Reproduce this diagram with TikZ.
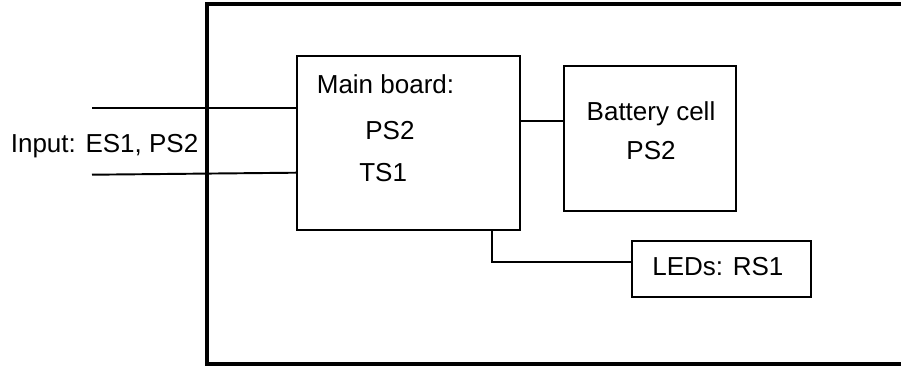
\documentclass[tikz,border=0pt]{standalone}
\usepackage{fontspec}
\setmainfont{Liberation Sans}
\usetikzlibrary{positioning}

\begin{document}
\begin{tikzpicture}[
      x=0.02cm, y=-0.02cm,
      every node/.style={font=\fontsize{14.8}{17.8}\selectfont},
      caixa/.style={draw, line width=1.1pt, minimum width=#1, inner sep=0pt},
      rotulo/.style={inner sep=0pt},
      linha/.style={line width=1.1pt},
      moldura/.style={line width=2.45pt}
  ]
      \useasboundingbox (0,0) rectangle (901,365);

      % Moldura externa (lado direito fora da imagem)
      \draw[moldura] (207,4.3) rectangle (915,364);

      % Caixas
      \node[caixa=4.454cm, minimum height=3.48cm] (board) at (408.6,143) {};
      \node[caixa=3.44cm, minimum height=2.894cm] (cell) at (650,138.3) {};
      \node[caixa=3.586cm, minimum height=1.12cm] (leds) at (721.3,268.7) {};

      % Textos
      \node[rotulo, anchor=base west] (boardtitle) at (316.5,93.3) {Main board:};
      \node[rotulo, anchor=base west] (boardps) at (365,139.3) {PS2};
      \node[rotulo, anchor=base west] (boardts) at (359,181.7) {TS1};
      \node[rotulo, anchor=base] (celltitle) at (651,120.7) {Battery cell};
      \node[rotulo, anchor=base] (cellps) at (651,159.3) {PS2};
      \node[rotulo, anchor=base west] (ledtxt) at (652,275.7) {LEDs: RS1};
      \node[rotulo, anchor=base west] (inputtxt) at (10.5,152.7) {Input: ES1, PS2};

      % Entradas
      \coordinate (in1) at (92,108.3);
      \coordinate (in2) at (92,174.7);
      \draw[linha] (in1) -- (in1 -| board.west);
      \draw[linha] (in2) -- ([yshift=0.04cm]in2 -| board.west);

      % Ligações
      \draw[linha] ([yshift=0.44cm]board.east) -- ([yshift=0.44cm]board.east -| cell.west);
      \draw[linha] ([xshift=1.674cm]board.south) |- ([yshift=0.128cm]leds.west);
  \end{tikzpicture}
\end{document}
